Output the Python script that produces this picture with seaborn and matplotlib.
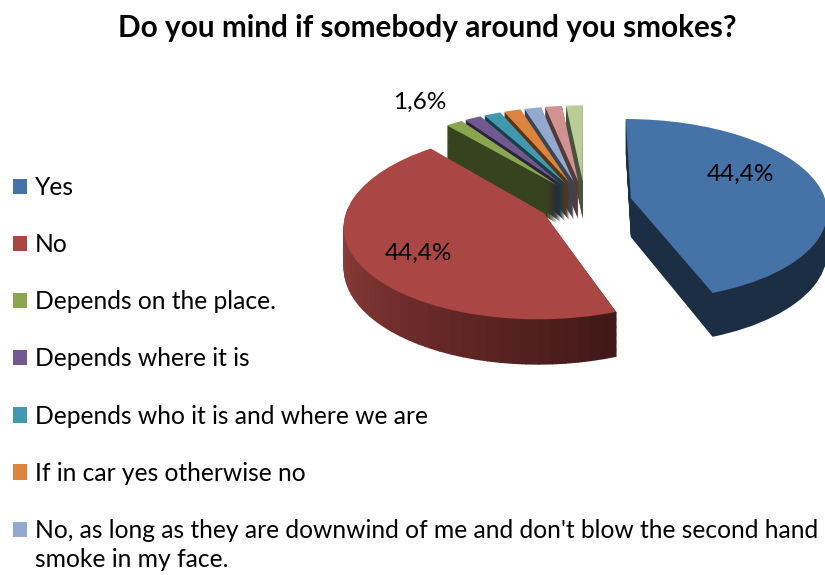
import numpy as np
import matplotlib
matplotlib.use("Agg")
import matplotlib.pyplot as plt
from matplotlib.patches import Wedge
from matplotlib.transforms import Transform
import seaborn as sns

title = "Do you mind if somebody around you smokes?"
share = [44.4, 44.4, 1.6, 1.6, 1.6, 1.6, 1.6, 1.6, 1.6]
legend_labels = [
    "Yes",
    "No",
    "Depends on the place.",
    "Depends where it is",
    "Depends who it is and where we are",
    "If in car yes otherwise no",
    "No, as long as they are downwind of me and don't blow the second hand\nsmoke in my face.",
]
slice_colors = ["#4572A7", "#AA4643", "#89A54E", "#71588F", "#4198AF",
                "#DB843D", "#93A9CF", "#D19392", "#B9CD96"]
explosion = 0.24

sns.set_theme(style="white")
plt.rcParams["font.family"] = ["Lato", "DejaVu Sans"]


class TiltedDisc(Transform):
    """Projects the unit pie plane to figure pixels with a tilted perspective view."""
    input_dims = output_dims = 2
    is_affine = False
    has_inverse = False

    def __init__(self, drop=0.0):
        super().__init__()
        self.drop = drop

    def transform_non_affine(self, values):
        values = np.asarray(values, dtype=float)
        u, v = values[:, 0], values[:, 1]
        w = 1 + 0.125 * v
        return np.column_stack([585 + 195 * u / w, 202 - (90 * v - self.drop) / w])


fig = plt.figure(figsize=(8.25, 5.75), dpi=100, facecolor="white")
ax = fig.add_axes([0, 0, 1, 1])

palette = sns.color_palette(slice_colors)
wedges, _ = ax.pie(share, colors=palette, startangle=90, counterclock=False,
                   explode=[explosion] * len(share), radius=1,
                   wedgeprops={"linewidth": 0})

# Painter's order: the thin slices at the back first, then the two large ones.
paint_rank = {8: 1, 7: 2, 6: 3, 5: 4, 4: 5, 3: 6, 2: 7, 1: 8, 0: 9}
depth = 39
side_dim = 0.4

for i, wedge in enumerate(wedges):
    base = paint_rank[i]
    wedge.set_transform(TiltedDisc(0.0) + ax.transData)
    wedge.set_zorder(base + 0.5)
    if i == 1:
        # The red wall is shaded from left to right around its rim.
        n_seg = 48
        edges = np.linspace(wedge.theta1, wedge.theta2, n_seg + 1)
        shades = sns.blend_palette(["#94433F", "#8F403D", "#6B2B2A", "#421918"], n_seg)
        if wedge.theta1 > -100:
            shades = shades[::-1]
        seg_colors = shades
    for z in np.arange(depth, 0, -1.0):
        proj = TiltedDisc(float(z)) + ax.transData
        if i == 1:
            for a, b, c in zip(edges[:-1], edges[1:], seg_colors):
                ax.add_patch(Wedge(wedge.center, wedge.r, a, b + 0.3, facecolor=c,
                                   linewidth=0, transform=proj, zorder=base))
        else:
            dark = tuple(side_dim * np.array(palette[i]))
            ax.add_patch(Wedge(wedge.center, wedge.r, wedge.theta1, wedge.theta2,
                               facecolor=dark, linewidth=0, transform=proj, zorder=base))

ax.set_aspect("auto")
ax.set_xlim(0, 825)
ax.set_ylim(575, 0)
ax.axis("off")


def percent(value):
    return f"{value:.1f}".replace(".", ",") + "%"


ax.text(741, 174, percent(share[0]), ha="center", va="center", fontsize=17.6, color="black", zorder=20)
ax.text(419, 253, percent(share[1]), ha="center", va="center", fontsize=17.6, color="black", zorder=20)
ax.text(420, 102, percent(share[2]), ha="center", va="center", fontsize=17.6, color="black", zorder=20)

ax.text(427.5, 28, title, ha="center", va="center", fontsize=21.4, fontweight="bold",
        color="black", zorder=20)

legend = ax.legend(wedges[:7], legend_labels, loc="upper left",
                   bbox_to_anchor=(13 / 825, 1 - 176 / 575), frameon=False,
                   fontsize=17.75, handlelength=0.58, handleheight=0.58, handletextpad=0.3,
                   labelspacing=1.385, borderpad=0, borderaxespad=0, labelcolor="black")
legend.set_zorder(30)
for label in legend.get_texts():
    label.set_linespacing(1.3)

# The key of the wrapped entry sits beside its first line.
last_key = legend.legend_handles[-1]
last_key.set_y(last_key.get_y() + 11.5)

fig.savefig("out.png", dpi=100)
